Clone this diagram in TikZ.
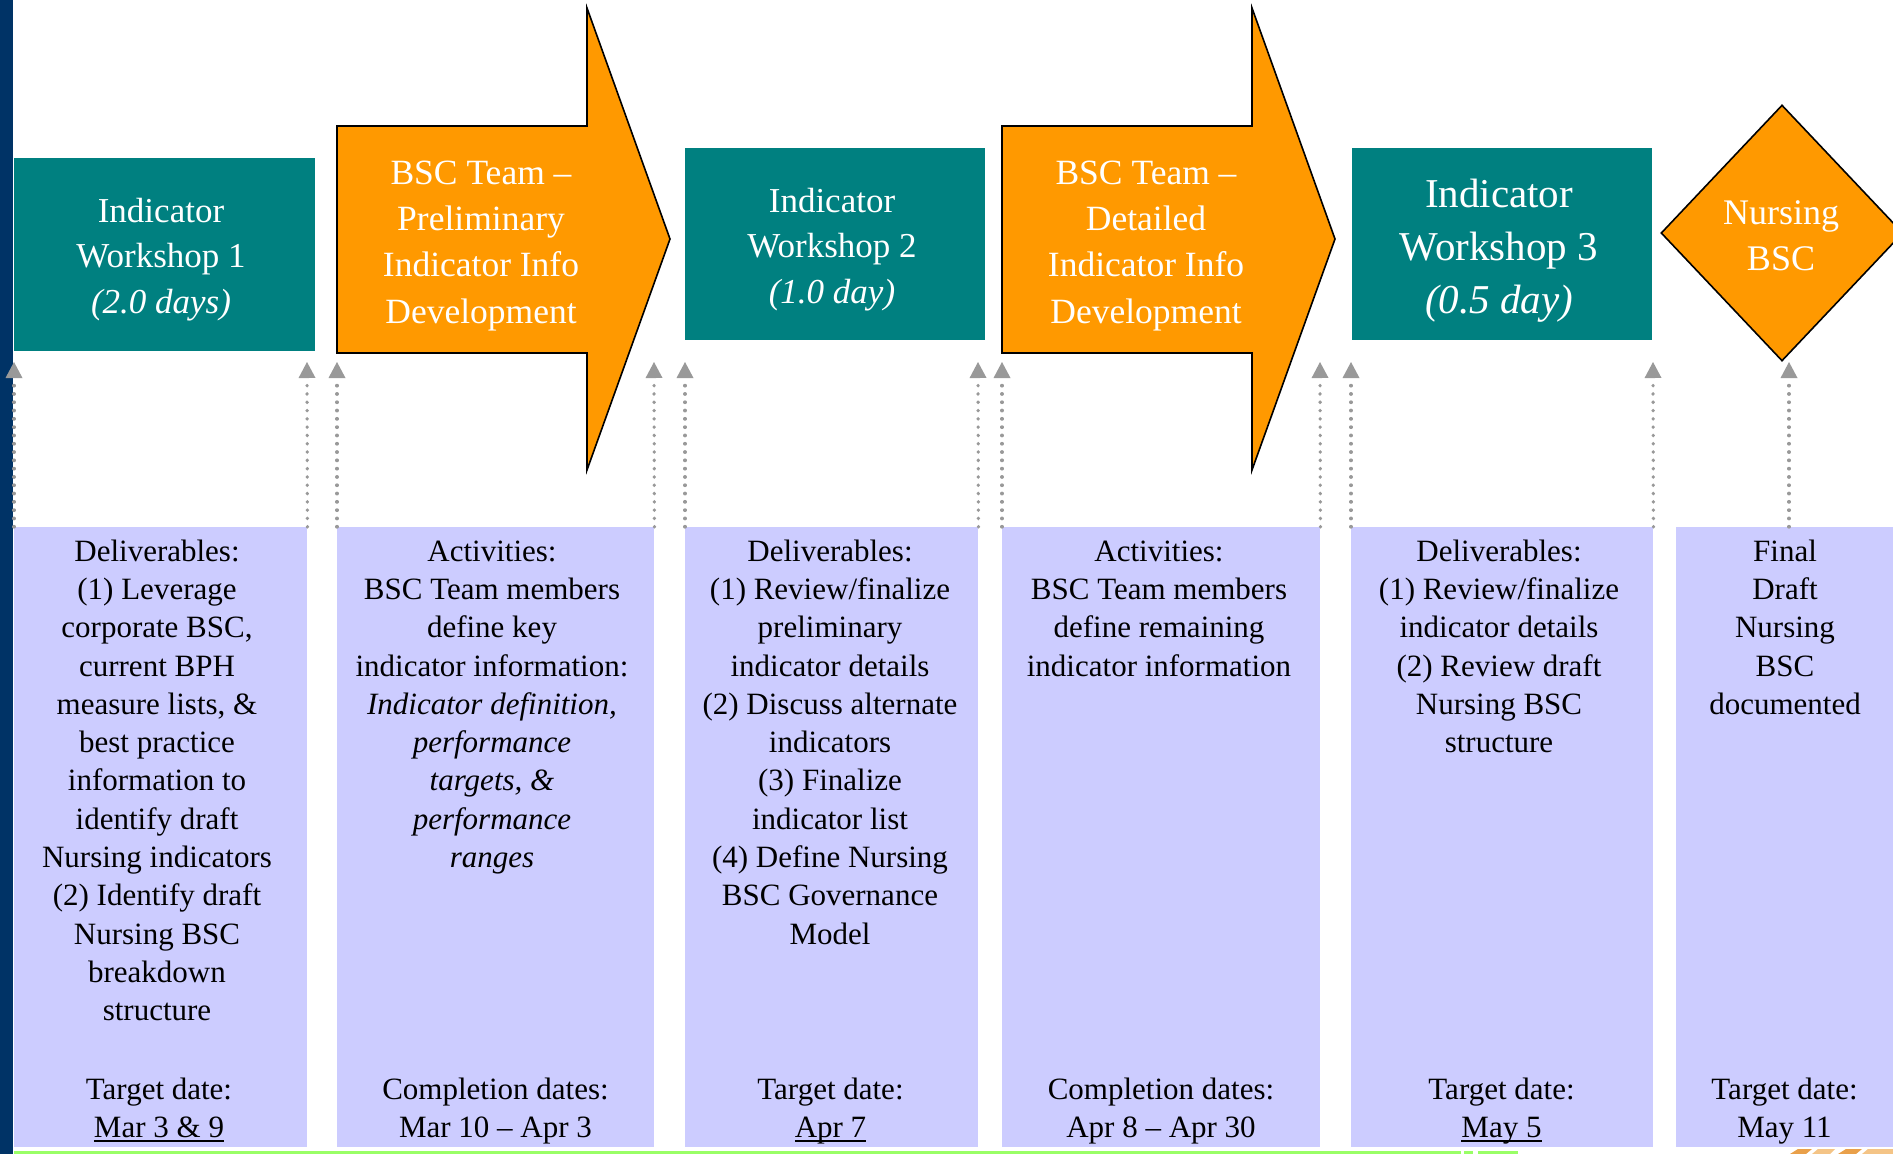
\documentclass[tikz,border=0pt]{standalone}
\usepackage{fontspec}
\setmainfont{Liberation Serif}
\usetikzlibrary{arrows.meta,shapes.geometric}

\definecolor{tealbox}{HTML}{008080}
\definecolor{orangebox}{HTML}{FF9900}
\definecolor{lavender}{HTML}{CCCCFF}
\definecolor{navystripe}{HTML}{003366}
\definecolor{guide}{HTML}{999999}
\definecolor{footgreen}{HTML}{99FF66}
\definecolor{decorA}{HTML}{E9A04A}
\definecolor{decorB}{HTML}{F4C486}

% underline that sits just below the baseline, crossing descenders
\newsavebox\ulinebox
\newcommand\dateul[1]{\sbox\ulinebox{#1}\rlap{\rule[-4.5pt]{\wd\ulinebox}{2pt}}\usebox\ulinebox}
% fixes the height of a first line so that node tops map to baselines
\newcommand\firstline{\rule{0pt}{0.78em}}

\begin{document}
\begin{tikzpicture}[x=1pt,y=-1pt,
  stage/.style={fill=tealbox, draw=none, inner sep=0pt, anchor=north west},
  notebox/.style={fill=lavender, draw=none, inner sep=0pt, anchor=north west, minimum height=620pt},
  stagetext/.style={text=white, align=center, anchor=north, inner sep=0pt,
    font=\fontsize{35}{45.5}\selectfont},
  notetext/.style={align=center, anchor=north, inner sep=0pt,
    font=\fontsize{31}{38.3}\selectfont},
  process/.style={fill=orangebox, draw=black, line width=1.6pt, line join=miter},
  guideline/.style={draw=guide, line width=3.3pt, dash pattern=on 0.5pt off 7.8pt,
    line cap=round, -{Triangle[width=17pt,length=16pt,line width=0pt,fill=guide]}}
]
\useasboundingbox (0,0) rectangle (1893,1154);
\clip (0,0) rectangle (1893,1154);
\fill[white] (0,0) rectangle (1893,1154);

% left stripe and footer rule
\fill[navystripe] (0,0) rectangle (13,1154);
\fill[footgreen] (14,1150.5) rectangle (1461,1154);
\fill[footgreen] (1464,1150.5) rectangle (1473,1154);
\fill[footgreen] (1478,1150.5) rectangle (1518,1154);
\fill[decorA] (1790,1154) -- (1798,1149) -- (1812,1149) -- (1806,1154) -- cycle;
\fill[decorB] (1812,1154) -- (1818,1149) -- (1835,1149) -- (1830,1154) -- cycle;
\fill[decorA] (1838,1154) -- (1846,1149) -- (1862,1149) -- (1856,1154) -- cycle;
\fill[decorB] (1862,1154) -- (1868,1149) -- (1893,1149) -- (1893,1154) -- cycle;

% workshop boxes
\node[stage, minimum width=301pt, minimum height=193pt] (w1) at (14,158) {};
\node[stage, minimum width=300pt, minimum height=192pt] (w2) at (685,148) {};
\node[stage, minimum width=300pt, minimum height=192pt] (w3) at (1352,148) {};
\node[stagetext] (w1t) at (161,194.7) {\firstline Indicator\\Workshop 1\\\textit{(2.0 days)}};
\node[stagetext] (w2t) at (832,184.7) {\firstline Indicator\\Workshop 2\\\textit{(1.0 day)}};
\node[stagetext, font=\fontsize{41}{53}\selectfont] (w3t) at (1499,175)
  {\firstline Indicator\\Workshop 3\\\textit{(0.5 day)}};

% team work phases
\draw[process] (337,126) -- (587,126) -- (587,8) -- (670,239) -- (587,470) -- (587,353) -- (337,353) -- cycle;
\draw[process] (1002,126) -- (1252,126) -- (1252,8) -- (1335,239) -- (1252,470) -- (1252,353) -- (1002,353) -- cycle;
\node[stagetext, font=\fontsize{35.5}{46.3}\selectfont] (p1) at (481,156.3)
  {\firstline BSC Team –\\Preliminary\\Indicator Info\\Development};
\node[stagetext, font=\fontsize{35.5}{46.3}\selectfont] (p2) at (1146,156.3)
  {\firstline BSC Team –\\Detailed\\Indicator Info\\Development};

% final milestone
\node[diamond, fill=orangebox, draw=black, line width=1.6pt, minimum width=242pt,
  minimum height=256pt, inner sep=0pt] (bsc) at (1782,233) {};
\node[stagetext, font=\fontsize{36}{46}\selectfont] (bsct) at (1781,196) {\firstline Nursing\\BSC};

% detail panels
\node[notebox, minimum width=293pt] (d1) at (14,527) {};
\node[notebox, minimum width=317pt] (d2) at (337,527) {};
\node[notebox, minimum width=293pt] (d3) at (685,527) {};
\node[notebox, minimum width=318pt] (d4) at (1002,527) {};
\node[notebox, minimum width=302pt] (d5) at (1351,527) {};
\node[notebox, minimum width=226pt] (d6) at (1676,527) {};

\node[notetext] (d1t) at (157,536.8) {\firstline Deliverables:\\(1) Leverage\\corporate BSC,\\current BPH\\measure lists, \&\\best practice\\information to\\identify draft\\Nursing indicators\\(2) Identify draft\\Nursing BSC\\breakdown\\structure};
\node[notetext] (d2t) at (492,536.8) {\firstline Activities:\\BSC Team members\\define key\\indicator information:\\\textit{Indicator definition,}\\\textit{performance}\\\textit{targets, \&}\\\textit{performance}\\\textit{ranges}};
\node[notetext] (d3t) at (830,536.8) {\firstline Deliverables:\\(1) Review/finalize\\preliminary\\indicator details\\(2) Discuss alternate\\indicators\\(3) Finalize\\indicator list\\(4) Define Nursing\\BSC Governance\\Model};
\node[notetext] (d4t) at (1159,536.8) {\firstline Activities:\\BSC Team members\\define remaining\\indicator information};
\node[notetext] (d5t) at (1499,536.8) {\firstline Deliverables:\\(1) Review/finalize\\indicator details\\(2) Review draft\\Nursing BSC\\structure};
\node[notetext] (d6t) at (1785,536.8) {\firstline Final\\Draft\\Nursing\\BSC\\documented};

\node[notetext] (d1b) at (159,1074.8) {\firstline Target date:\\\dateul{Mar 3 \& 9}};
\node[notetext] (d2b) at (495.5,1074.8) {\firstline Completion dates:\\Mar 10 – Apr 3};
\node[notetext] (d3b) at (830.5,1074.8) {\firstline Target date:\\\dateul{Apr 7}};
\node[notetext] (d4b) at (1161,1074.8) {\firstline Completion dates:\\Apr 8 – Apr 30};
\node[notetext] (d5b) at (1501.5,1074.8) {\firstline Target date:\\\dateul{May 5}};
\node[notetext] (d6b) at (1784.5,1074.8) {\firstline Target date:\\May 11};

% guide tips under the stages
\coordinate (g1) at (14,362);
\coordinate (g2) at (307,362);
\coordinate (g3) at (337,362);
\coordinate (g4) at (654,362);
\coordinate (g5) at (685,362);
\coordinate (g6) at (978,362);
\coordinate (g7) at (1002,362);
\coordinate (g8) at (1320,362);
\coordinate (g9) at (1351,362);
\coordinate (g10) at (1653,362);
\coordinate (g11) at (1789,362);

\draw[guideline] (d1.north west) -- (g1);
\draw[guideline] (d1.north east) -- (g2);
\draw[guideline] (d2.north west) -- (g3);
\draw[guideline] (d2.north east) -- (g4);
\draw[guideline] (d3.north west) -- (g5);
\draw[guideline] (d3.north east) -- (g6);
\draw[guideline] (d4.north west) -- (g7);
\draw[guideline] (d4.north east) -- (g8);
\draw[guideline] (d5.north west) -- (g9);
\draw[guideline] (d5.north east) -- (g10);
\draw[guideline] (d6.north -| g11) -- (g11);
\end{tikzpicture}
\end{document}
